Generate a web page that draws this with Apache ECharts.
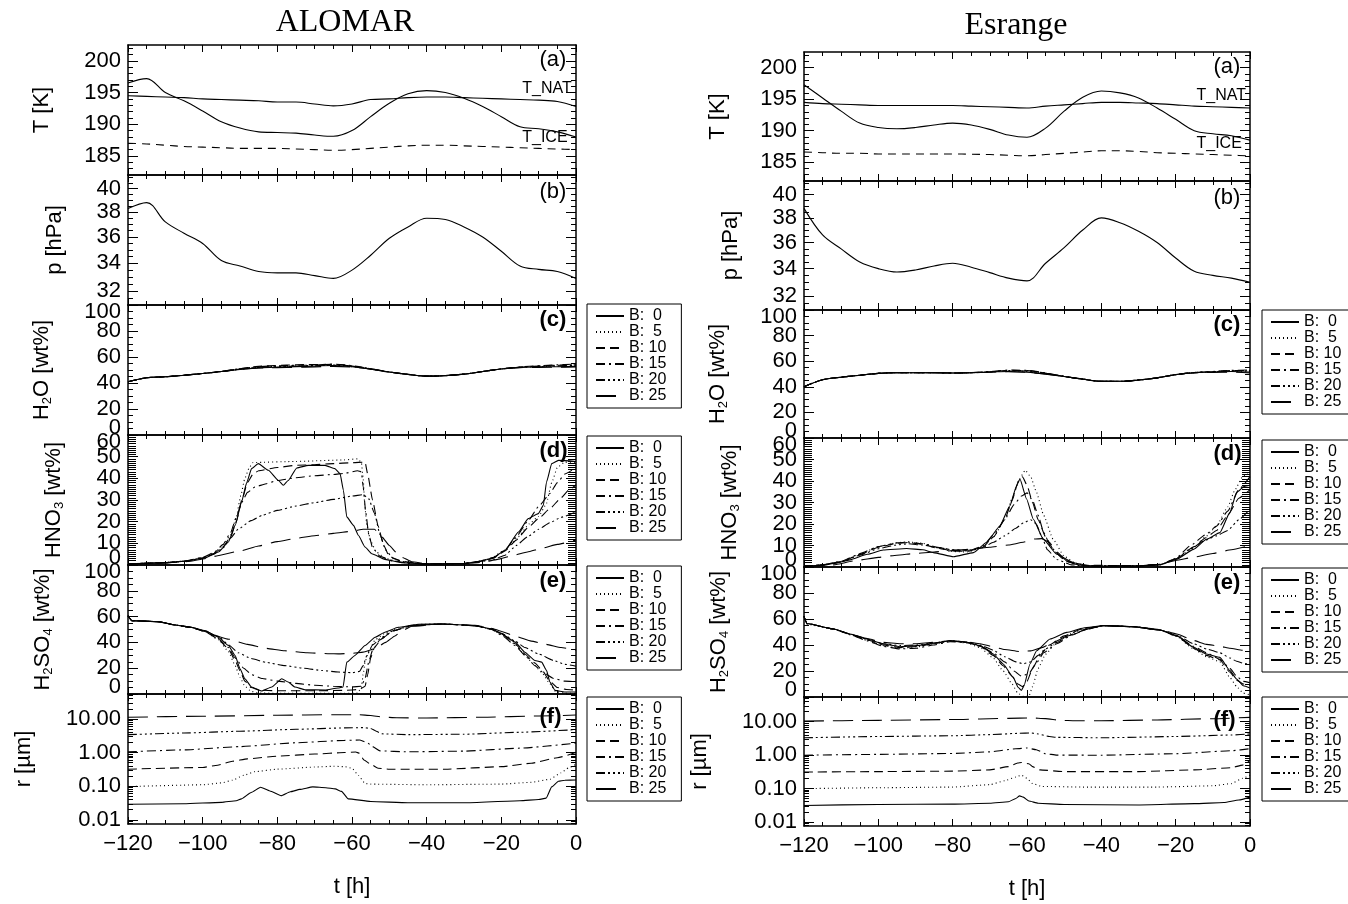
<!DOCTYPE html>
<html><head><meta charset="utf-8">
<script src="https://cdn.jsdelivr.net/npm/echarts@6/dist/echarts.min.js"></script>
<style>html,body{margin:0;padding:0;background:#fff}#c{width:1348px;height:904px}</style>
</head><body><div id="c"></div>
<script>
const FONT = '"Liberation Sans", Arial, Helvetica, sans-serif';
const SERIF = '"Liberation Serif", "Times New Roman", serif';

// ---------- shared ----------
const hours = [-120,-115,-110,-105,-100,-95,-90,-85,-80,-75,-70,-65,-60,-55,-50,-45,-40,-35,-30,-25,-20,-15,-10,-5,0];
const bNames = ['B:  0','B:  5','B: 10','B: 15','B: 20','B: 25'];
const timeTicks = [-120,-100,-80,-60,-40,-20,0];
const tTicks = [185,190,195,200];
const pTicks = [32,34,36,38,40];
const h2oTicks = [0,20,40,60,80,100];
const hno3Ticks = [0,10,20,30,40,50,60];
const h2so4Ticks = [0,20,40,60,80,100];
const rTicks = [0.01,0.1,1,10];
const rMinorTicks = [0.008,0.009,0.02,0.03,0.04,0.05,0.06,0.07,0.08,0.09,0.2,0.3,0.4,0.5,0.6,0.7,0.8,0.9,2,3,4,5,6,7,8,9,20,30,40,50];
const tempLabels = [['T_NAT',-14.4,195.6],['T_ICE',-14.4,187.95]];

// ---------- ALOMAR ----------
const alomarT    = [196.5,197.2,195.0,193.7,192.1,190.4,189.4,188.8,188.7,188.6,188.3,188.1,189.0,191.2,193.3,194.8,195.3,195.0,194.1,192.8,191.2,189.6,189.3,188.8,188.0];
const alomarTNAT = [194.5,194.4,194.3,194.2,194.0,193.9,193.8,193.7,193.5,193.5,193.2,192.9,193.2,193.9,194.0,194.2,194.3,194.3,194.2,194.1,194.0,193.9,193.8,193.6,192.8];
const alomarTICE = [187.0,186.9,186.7,186.5,186.4,186.3,186.2,186.2,186.2,186.1,186.0,185.9,186.0,186.2,186.4,186.6,186.7,186.7,186.6,186.5,186.4,186.3,186.2,186.1,186.0];
const alomarP    = [38.3,38.8,37.2,36.3,35.5,34.2,33.8,33.4,33.3,33.3,33.1,32.9,33.5,34.6,35.9,36.8,37.5,37.4,36.8,36.0,34.9,33.8,33.55,33.4,32.9];

const alomarH2O_B0  = [41,44,44.8,46,47.3,48.8,50.5,51.6,52.2,52.6,53,53.5,52.5,50.7,48.4,46.6,45.3,45.7,46.8,48.8,50.8,52,52.4,52.5,52.8];
const alomarH2O_B5  = [41,44,44.8,46,47.3,48.8,50.5,52,52.8,53,53.3,53.6,52.6,50.7,48.4,46.6,45.3,45.7,46.8,48.8,50.8,52,52.6,53,53.3];
const alomarH2O_B10 = [41,44,44.8,46,47.3,48.9,51,52.8,53.5,54,54.2,54.3,53,50.8,48.4,46.6,45.3,45.7,46.8,48.8,50.8,52.2,53,53.8,54.5];
const alomarH2O_B15 = [41,44,44.8,46,47.3,48.9,51,52.5,53.2,53.6,53.8,54.5,53.3,51,48.5,46.6,45.3,45.7,46.8,48.8,50.9,52.3,53.3,54,54.5];
const alomarH2O_B20 = [41,44,44.8,46,47.3,48.8,50.7,52,52.6,53,53.4,53.8,53,51,48.5,46.6,45.3,45.7,46.8,48.8,50.9,52.2,52.8,53.3,53.6];
const alomarH2O_B25 = [41,44,44.8,46,47.3,48.8,50.5,51.5,51.8,52,52.4,52.8,52.2,50.6,48.4,46.6,45.3,45.7,46.8,48.8,50.8,51.8,52,52.2,52.3];

const alomarHNO3_B0 = [[-120,0.5],[-110,1.0],[-104.7,1.8],[-99.4,3.2],[-95.8,6],[-93.1,10.6],[-91.3,18.3],[-89.6,29],[-88.2,38],[-86.9,44.5],[-85.1,46.8],[-82.4,43.7],[-79.7,39],[-78.4,36.8],[-77.1,39],[-74.8,44.8],[-71.7,46],[-67.2,46],[-64.6,44.5],[-63.2,42.2],[-62.3,34.5],[-61.4,22.2],[-59.6,18.3],[-58.3,13.7],[-56.5,8.3],[-54.7,5.2],[-51.2,2.6],[-46.7,1.1],[-40.4,0.5],[-30,0.7],[-27.1,1.4],[-22.6,2.9],[-19.0,6.8],[-15.4,15.2],[-12.8,21.4],[-10.1,23.7],[-8.75,27.5],[-7.9,38.3],[-6.5,46.8],[-4.7,48.3],[0,47.8]];
const alomarHNO3_B5 = [[-120,0.5],[-110,1.1],[-105,1.7],[-100,3.4],[-97,5.5],[-94.5,9],[-92.5,14],[-91,22],[-89.8,32],[-88.7,40],[-87.5,45],[-86.5,47.3],[-75,47.8],[-62,48.5],[-58.5,49],[-57.5,47.5],[-57,40],[-56.6,28],[-56,18],[-55,11],[-53.5,6],[-51,3],[-47,1.3],[-40,0.5],[-30,0.7],[-27,1.4],[-23,2.9],[-19,7],[-15.5,13],[-12.5,19],[-10,22.5],[-8,28],[-6.5,38],[-5,45],[-3,47.5],[0,47.5]];
const alomarHNO3_B10 = [[-120,0.5],[-110,1.1],[-105,1.7],[-100,3.3],[-97,5.3],[-94.5,8.5],[-92.5,13],[-91,20],[-89.5,30],[-88,38],[-86.5,42],[-85,43.5],[-80,45],[-75,46],[-70,46.3],[-65,46.8],[-60,47.2],[-56.5,47.5],[-55.8,42],[-54.5,30],[-53,18],[-51.5,9],[-50,4],[-47,1.8],[-42,0.6],[-30,0.7],[-26,1.5],[-22,3.3],[-19,6.5],[-16,11.5],[-13,17],[-10,21.5],[-7,26],[-4,31],[-2,34.5],[0,37]];
const alomarHNO3_B15 = [[-120,0.5],[-110,1.1],[-105,1.8],[-100,3.5],[-97,5.8],[-94.5,9.5],[-92.5,15],[-91,22],[-89.5,29],[-88,33.5],[-86,36],[-83,37.5],[-80,39],[-75,40.3],[-70,41.2],[-65,41.8],[-62,42.3],[-58.5,43.5],[-57.5,43],[-57,36],[-56.3,24],[-55.5,14],[-54.5,8],[-52.5,4],[-49,1.8],[-44,0.7],[-40,0.5],[-30,0.7],[-26,1.6],[-22,3.5],[-19,7],[-16,13],[-13,20],[-10,27],[-7,33],[-5,38],[-3,42],[0,45]];
const alomarHNO3_B20 = [[-120,0.5],[-110,1.1],[-105,1.7],[-100,3.2],[-97,5],[-94.5,8],[-92.5,12.5],[-90.5,16.5],[-87,20.5],[-84,23],[-80,25.2],[-75,27.2],[-70,28.8],[-65,30.3],[-60,31.8],[-57,32.5],[-55.5,30.5],[-54,24],[-52.5,14],[-51,7],[-49,3],[-45,1],[-40,0.5],[-30,0.7],[-26,1.4],[-22,2.6],[-19,4.5],[-16,9],[-13,13],[-10,16.5],[-7,19.5],[-4,22],[0,24.5]];
const alomarHNO3_B25 = [[-120,0.4],[-110,0.9],[-104,1.6],[-99,3],[-96,4.3],[-90,6.5],[-85,8.8],[-80,10.8],[-75,12.3],[-70,13.5],[-65,14.6],[-60,15.6],[-57,16.5],[-54,16.5],[-52,13],[-50,9],[-48,5.5],[-46.5,3.5],[-44,1.5],[-40,0.6],[-30,0.6],[-25,1.2],[-21,2.6],[-17,4.3],[-13,6],[-9,7.8],[-5,9.5],[0,11.5]];

const alomarH2SO4_B0 = [[-120,60.7],[-119,56.9],[-111.9,56.1],[-107.4,53.5],[-103,51.7],[-99.4,49.2],[-95.8,44],[-93.1,37.6],[-91.3,29.9],[-90,19.6],[-88.7,11.8],[-86.9,5.4],[-84.2,2.3],[-81.5,5.4],[-78.8,11.8],[-77.1,9.3],[-75.3,5.4],[-72.6,3.3],[-67.2,3.1],[-63.7,4.6],[-62.4,5.4],[-61.4,24.7],[-59.2,29.9],[-56.5,37.6],[-53.8,44],[-51.2,47.9],[-47.6,51.7],[-42.2,54.1],[-36,54.3],[-27.1,53],[-22.6,50.5],[-19.9,46.6],[-16.3,40.2],[-13.7,32.4],[-11,26],[-9.2,24.7],[-7.9,18.3],[-7,9.3],[-5.6,2.8],[-3,1.5],[0,1.5]];
const alomarH2SO4_B5 = [[-120,60.7],[-119,56.9],[-111.9,56.1],[-107.4,53.5],[-103,51.5],[-99.4,48.5],[-95.8,42],[-93.1,33],[-91.3,22],[-90,13],[-88.7,6],[-87,2],[-85,0.8],[-80,0.5],[-70,0.5],[-62,0.5],[-58.5,0.8],[-57.5,5],[-57,15],[-56.5,25],[-55.5,33],[-53.8,42],[-51.2,47],[-47.6,51.2],[-42.2,54],[-36,54.3],[-27.1,53],[-22.6,50.2],[-19.9,46],[-16.3,38.5],[-13.7,30],[-11,22],[-9,16],[-7,8],[-5.5,2],[-3,0.5],[0,0.5]];
const alomarH2SO4_B10 = [[-120,60.7],[-119,56.9],[-111.9,56.1],[-107.4,53.5],[-103,51.5],[-99.4,48.5],[-95.8,42.5],[-93.1,35],[-91.3,26],[-90,18],[-88.7,10],[-87,5],[-85,3],[-80,2.5],[-70,2.5],[-62,2.8],[-58,3.5],[-56.5,6],[-55.8,15],[-55,28],[-54,36],[-52,43],[-49,49],[-44,53],[-36,54.3],[-27.1,53],[-22.6,50.5],[-19.9,46.5],[-16.3,39],[-13.7,31],[-11,24],[-9,18],[-7,10],[-5,5],[-2.5,3.5],[0,3]];
const alomarH2SO4_B15 = [[-120,60.7],[-119,56.9],[-111.9,56.1],[-107.4,53.5],[-103,51.5],[-99.4,48.5],[-95.8,43],[-93.1,36],[-91.3,28],[-89,20],[-86.9,15],[-84,12],[-80,10],[-75,8.2],[-70,6.8],[-65,6],[-60,5.5],[-57.5,6],[-56.5,12],[-55.5,25],[-54.5,34],[-52.5,42],[-49,49],[-44,53],[-36,54.3],[-27.1,53],[-22.6,50],[-19.9,45.5],[-16.3,37.5],[-13.7,30],[-11,22],[-9,17],[-6,12],[-3,10],[0,9.5]];
const alomarH2SO4_B20 = [[-120,60.7],[-119,56.9],[-111.9,56.1],[-107.4,53.5],[-103,51.5],[-99.4,48.8],[-95.8,44.5],[-93,38],[-90.5,32],[-87,27.5],[-83,24.5],[-78,22],[-73,20],[-68,18.2],[-63.7,17],[-60,16.5],[-58,17.5],[-57,22],[-56,30],[-54.5,38],[-52,44],[-49,49],[-44,53],[-36,54.3],[-27.1,53],[-22.6,50.5],[-19.9,47],[-16.3,41],[-13.7,36],[-10,31],[-6,26],[-3,23],[0,21.5]];
const alomarH2SO4_B25 = [[-120,60.7],[-119,56.9],[-111.9,56.1],[-107.4,53.5],[-103,51.7],[-99.4,48.5],[-97.6,46],[-93,42.5],[-88,38.5],[-83.3,35.5],[-78,33.5],[-72,32],[-66,31.2],[-63.7,31.1],[-60,31.5],[-57,32.5],[-54,35],[-51,40],[-48.5,45],[-46.5,49.2],[-44,52.5],[-36,54.3],[-27.1,53.2],[-22.6,51],[-19.9,48.5],[-16,44.5],[-12,41],[-8,38.5],[-4,36],[0,34]];

const alomarR_B0 = [[-120,0.029],[-105,0.030],[-95,0.033],[-91,0.037],[-89.6,0.042],[-87,0.065],[-84.5,0.093],[-82,0.072],[-79,0.052],[-76.5,0.068],[-74,0.08],[-70.5,0.095],[-67,0.09],[-64.5,0.083],[-62.8,0.07],[-61,0.042],[-55,0.035],[-45,0.032],[-30,0.032],[-15,0.037],[-10,0.04],[-8,0.044],[-6.5,0.095],[-4.7,0.14],[-3,0.15],[0,0.152]];
const alomarR_B5 = [[-120,0.097],[-100,0.11],[-95,0.125],[-92,0.15],[-89,0.21],[-86,0.27],[-80,0.32],[-70,0.37],[-65,0.39],[-62,0.38],[-60,0.34],[-58.3,0.21],[-56.5,0.12],[-55,0.115],[-40,0.11],[-20,0.115],[-12,0.13],[-7,0.16],[-4,0.25],[-2,0.35],[0,0.45]];
const alomarR_B10 = [[-120,0.32],[-100,0.36],[-96,0.42],[-92,0.55],[-88,0.65],[-80,0.78],[-70,0.9],[-62,1.0],[-59,1.04],[-58,0.95],[-56.8,0.6],[-55,0.45],[-53,0.34],[-50,0.32],[-35,0.32],[-20,0.38],[-12,0.48],[-5,0.7],[0,1.0]];
const alomarR_B15 = [[-120,1.05],[-105,1.2],[-90,1.5],[-75,1.95],[-62,2.3],[-58,2.35],[-56,2.0],[-54.5,1.5],[-52.5,1.12],[-45,1.05],[-30,1.1],[-15,1.35],[0,1.9]];
const alomarR_B20 = [[-120,3.4],[-105,3.8],[-90,4.3],[-75,4.9],[-62,5.4],[-57,5.5],[-55,5.2],[-53.5,4.3],[-52,3.6],[-45,3.4],[-30,3.5],[-15,4.0],[0,4.8]];
const alomarR_B25 = [[-120,11.2],[-100,12],[-80,12.8],[-65,13.3],[-58,13.3],[-55,12.6],[-52,11.4],[-48,10.8],[-40,10.6],[-25,11.2],[-10,12.2],[0,13]];

// ---------- ESRANGE ----------
const esrangeT    = [197.3,195.2,193.1,191.2,190.5,190.3,190.5,190.9,191.2,190.9,190.2,189.3,188.95,190.4,193.1,195.3,196.3,196.0,195.2,193.6,191.8,190.0,189.5,189.2,188.5];
const esrangeTNAT = [194.5,194.3,194.2,194.1,194.0,194.0,194.0,194.0,194.0,193.9,193.8,193.7,193.6,193.9,194.1,194.3,194.5,194.5,194.4,194.3,194.1,193.9,193.8,193.7,193.6];
const esrangeTICE = [186.6,186.5,186.4,186.4,186.3,186.3,186.3,186.3,186.3,186.25,186.2,186.1,186.0,186.2,186.4,186.6,186.8,186.8,186.7,186.5,186.4,186.3,186.2,186.1,186.0];
const esrangeP    = [38.8,36.6,35.5,34.5,34.0,33.75,33.9,34.2,34.4,34.1,33.7,33.3,33.1,34.4,35.6,37.0,38.0,37.6,36.9,36.0,34.8,33.8,33.5,33.3,33.0];

const esrangeH2O_B0  = [40,45.5,47.5,49,50.5,51,51,51,50.8,51,51.5,52,51.5,50,48,46,44.3,44.3,45.3,47,49.5,51,51.5,52,51.5];
const esrangeH2O_B5  = [40,45.5,47.5,49,50.5,51,51,51,50.8,51,51.6,52.4,52,50.2,48,46,44.3,44.3,45.3,47,49.5,51,51.6,52.3,52];
const esrangeH2O_B10 = [40,45.5,47.5,49,50.5,51,51,51,50.8,51.1,51.8,52.8,52.6,50.6,48.1,46,44.3,44.3,45.3,47,49.5,51.1,51.8,52.6,52.8];
const esrangeH2O_B15 = [40,45.5,47.5,49,50.5,51,51,51,50.8,51.1,51.9,53,52.8,50.8,48.2,46,44.3,44.3,45.3,47,49.5,51.2,52,52.8,53.2];
const esrangeH2O_B20 = [40,45.5,47.5,49,50.5,51,51,51,50.8,51,51.7,52.6,52.3,50.5,48.1,46,44.3,44.3,45.3,47,49.5,51.1,51.8,52.5,52.5];
const esrangeH2O_B25 = [40,45.5,47.5,49,50.5,51,51,51,50.8,51,51.4,51.8,51.3,49.9,48,46,44.3,44.3,45.3,47,49.5,50.9,51.3,51.5,50.8];

const esrangeHNO3_B0 = [[-120,0.3],[-115,0.8],[-112,1.6],[-107.6,3.3],[-103,5.9],[-98.7,7.9],[-92.4,8.6],[-88,8],[-85.2,6.7],[-79.8,4.8],[-74.4,6.7],[-70.9,11.4],[-67.3,19.1],[-64.6,28.5],[-62.8,37.8],[-61.9,40.9],[-60.1,31.6],[-58.3,22.2],[-55.6,12.9],[-52,5.9],[-47.5,2],[-43,0.5],[-30,0.5],[-24.2,1],[-19.7,3.6],[-15.2,8.2],[-11.7,12.9],[-8.1,16],[-5.4,25.4],[-3.6,34.7],[-1.5,37.5],[0,38]];
const esrangeHNO3_B5 = [[-120,0.3],[-115,1],[-110,2.5],[-105,6],[-100,9.5],[-95,11.3],[-92,11.7],[-88,11],[-84,9],[-80,7.2],[-76,7],[-72,9],[-69,14],[-66,22],[-64,32],[-62,41],[-60.5,45],[-59,42],[-57.5,35],[-55.5,24],[-53,13],[-50,5],[-47,1.8],[-44,0.6],[-30,0.6],[-24,1.1],[-20,3.5],[-15,9],[-12,14],[-9,19],[-6,28],[-4,36],[-2,42],[0,45]];
const esrangeHNO3_B10 = [[-120,0.3],[-115,1],[-110,2.4],[-105,5.8],[-100,9.2],[-95,11],[-92,11.4],[-88,10.5],[-84,8.7],[-80,7.5],[-76,7.2],[-72,9],[-69,14],[-66,22],[-64,31],[-62.3,40],[-61.2,42],[-60,38],[-58.5,30],[-57,22],[-55,14],[-52.5,7],[-49,2.5],[-45,0.8],[-30,0.6],[-24,1.1],[-20,3.8],[-15,9.5],[-12,13.5],[-9,17],[-6,24],[-3,32],[0,36]];
const esrangeHNO3_B15 = [[-120,0.3],[-115,1],[-110,2.6],[-105,6.2],[-100,9.5],[-95,11.2],[-92,11.6],[-88,10.8],[-84,9.2],[-80,8],[-76,7.5],[-72,9.5],[-69,15],[-66,22],[-63.5,29],[-61.5,33],[-60,34.5],[-58.5,31],[-57,24],[-55.5,16],[-53.5,9],[-50.5,4],[-47,1.3],[-44,0.5],[-30,0.6],[-24,1.2],[-20,4],[-16,10],[-12,15],[-9,19],[-6,26],[-3,36],[0,42]];
const esrangeHNO3_B20 = [[-120,0.3],[-115,1],[-110,2.5],[-105,5.5],[-100,8.5],[-95,10.3],[-92,10.8],[-88,10.2],[-84,9],[-80,8],[-76,7.8],[-72,9],[-69,11.5],[-66,14.5],[-63,18],[-61,20.5],[-59,22],[-57.5,20],[-56,14],[-54.5,8],[-52,3.5],[-48,1],[-44,0.4],[-30,0.5],[-24,1.2],[-20,3.8],[-16,8.5],[-12,12.5],[-9,14.5],[-6,17],[-3,22],[0,27]];
const esrangeHNO3_B25 = [[-120,0.2],[-112,1],[-106,3],[-100,4.5],[-95,5.5],[-90,6.3],[-85,7],[-80,7.6],[-75,8.3],[-70,9.2],[-65,10.2],[-61,11.5],[-58,13],[-56,13.2],[-54,11.5],[-52,7],[-49,2.5],[-46,0.6],[-30,0.5],[-24,1.3],[-20,3],[-15,4.6],[-10,6.3],[-5,8],[0,10]];

const esrangeH2SO4_B0 = [[-120,62],[-119.2,56.5],[-112,52.3],[-107.6,48.5],[-103,44.6],[-98.7,40.8],[-94.2,38.7],[-89.7,39.5],[-85.2,41.3],[-80.7,43.3],[-76.2,42.1],[-72.6,39.5],[-69.1,33.1],[-66.4,25.4],[-63.7,15.1],[-62.4,7.5],[-61.5,5],[-60.8,8.7],[-59.2,25.4],[-57.4,35.6],[-53.8,44.6],[-49.3,49.7],[-44.8,53.1],[-39.5,54.9],[-31.4,54.1],[-24.2,51.5],[-19.7,47.2],[-15.2,38.2],[-11.7,33.1],[-8.1,30.5],[-5.4,20.3],[-3.6,13.8],[-1.8,8.7],[0,6.9]];
const esrangeH2SO4_B5 = [[-120,62],[-119.2,56],[-112,52],[-107.6,48],[-103,43.5],[-98.7,39.5],[-94.2,37.5],[-89.7,38.5],[-85.2,40.8],[-80.7,43],[-76.2,41.5],[-72.6,38],[-69.1,30],[-66.4,20],[-64,10],[-62.5,3],[-61,0.5],[-59.5,0.5],[-58.5,8],[-57,22],[-55,33],[-52,42],[-48,49],[-44,52.8],[-39.5,54.9],[-31.4,54.1],[-24.2,51.5],[-19.7,46.5],[-15.2,37],[-11.7,31],[-8.1,27],[-5.4,15],[-3.6,8],[-1.8,3],[0,1.5]];
const esrangeH2SO4_B10 = [[-120,62],[-119.2,56.5],[-112,52.3],[-107.6,48.3],[-103,44],[-98.7,40],[-94.2,38],[-89.7,38.8],[-85.2,41],[-80.7,43.2],[-76.2,42],[-72.6,39],[-69.1,32],[-66.4,24],[-64,16],[-62.5,10],[-61.2,8],[-60,12],[-58.5,22],[-56.5,32],[-54,40],[-50,47],[-45,52.5],[-39.5,54.9],[-31.4,54.1],[-24.2,51.5],[-19.7,46.8],[-15.2,37.5],[-11.7,32],[-8.1,28.5],[-5.4,19],[-3.6,13],[-1.8,10],[0,9]];
const esrangeH2SO4_B15 = [[-120,62],[-119.2,56.5],[-112,52.3],[-107.6,48],[-103,43.2],[-98.7,39],[-94.2,37],[-89.7,37.5],[-85.2,40],[-80.7,42.5],[-76.2,41.8],[-72.6,39.5],[-69.1,34],[-66,27],[-63.5,20],[-61.5,16],[-59.5,18],[-57.5,26],[-55.5,34],[-52,41],[-48,47.5],[-44,52],[-39.5,54.9],[-31.4,54.1],[-24.2,51.5],[-19.7,47],[-15.2,39],[-11.7,34],[-8.1,29],[-5.4,22],[-3.6,16],[-1.8,12],[0,11]];
const esrangeH2SO4_B20 = [[-120,62],[-119.2,56.5],[-112,52.3],[-107.6,48.5],[-103,44.5],[-98.7,41],[-94.2,39.5],[-89.7,40],[-85.2,41.5],[-80.7,43.3],[-76.2,42.3],[-72.6,40],[-69.1,36],[-66,31],[-63,27],[-61,25.5],[-59,27],[-57,32],[-55,37],[-52,42],[-48,48],[-44,52],[-39.5,54.9],[-31.4,54.1],[-24.2,51.5],[-19.7,47.5],[-15.2,41],[-11.7,37],[-8.1,34],[-5.4,30],[-3.6,27.5],[-1.8,26],[0,25]];
const esrangeH2SO4_B25 = [[-120,62],[-119.2,56.5],[-112,52.3],[-107.6,48.5],[-103,45],[-98.7,42],[-94.2,41],[-89.7,41],[-85.2,42],[-80.7,43.3],[-76.2,42.5],[-72.6,41],[-69,38.5],[-66,36.5],[-62,35],[-59,35.5],[-56,38],[-53,42],[-49,47],[-45,51.5],[-39.5,54.9],[-31.4,54.1],[-24.2,51.8],[-19.7,48.5],[-15.2,43.5],[-11.7,40.5],[-8.1,39],[-5.4,37.5],[-2,36],[0,35]];

const esrangeR_B0 = [[-120,0.031],[-100,0.033],[-80,0.034],[-70,0.036],[-65,0.04],[-63,0.05],[-62,0.06],[-61,0.055],[-59.5,0.042],[-57,0.036],[-50,0.033],[-30,0.032],[-15,0.035],[-7,0.038],[-3,0.045],[0,0.055]];
const esrangeR_B5 = [[-120,0.099],[-100,0.105],[-80,0.11],[-70,0.13],[-66,0.17],[-63,0.22],[-61.5,0.25],[-60,0.2],[-58.5,0.14],[-56,0.115],[-45,0.11],[-25,0.11],[-10,0.12],[-5,0.14],[-2,0.2],[0,0.25]];
const esrangeR_B10 = [[-120,0.31],[-100,0.32],[-80,0.33],[-70,0.36],[-65,0.45],[-62.5,0.58],[-61.5,0.6],[-59.5,0.55],[-58.5,0.45],[-56.5,0.36],[-50,0.32],[-30,0.32],[-15,0.36],[-5,0.42],[-2,0.5],[0,0.7]];
const esrangeR_B15 = [[-120,0.99],[-100,1.05],[-80,1.12],[-70,1.25],[-63,1.55],[-60,1.63],[-57.5,1.45],[-55,1.1],[-52,1.0],[-40,0.99],[-20,1.1],[-5,1.35],[0,1.55]];
const esrangeR_B20 = [[-120,3.3],[-100,3.6],[-80,3.8],[-70,4.1],[-62,4.5],[-59,4.6],[-57,4.3],[-54,3.6],[-52,3.4],[-40,3.3],[-20,3.6],[-5,4.0],[0,4.3]];
const esrangeR_B25 = [[-120,10.4],[-100,11],[-80,11.6],[-65,12.6],[-59,13],[-55,12.4],[-51,11],[-47,10.7],[-40,10.7],[-25,11.3],[-10,12.3],[0,13.5]];

// ---------- build ----------
const bDash = ['solid',[1,3],[9,5],[9,4,2,4],[9,3,2,3,2,3,2,3],[20,9]];
const zip = (ts, vs) => ts.map((t, i) => [t, vs[i]]);
const tMinorTicks = []; for (let v = 183; v <= 202; v++) if (v % 5) tMinorTicks.push(v);
const pMinorTicks = []; for (let v = 31.5; v <= 41; v += 0.5) if (v % 2) pMinorTicks.push(v);

const panelSpecs = [
  {type:'value', min:182, max:202.5, majors:tTicks, minors:tMinorTicks, fmt:v=>String(Math.round(v)), name:'T [K]', gap:75, lab:'(a)', bold:false, labDy:15},
  {type:'log', min:31.05, max:41.2, majors:pTicks, minors:pMinorTicks, fmt:v=>String(Math.round(v)), name:'p [hPa]', gap:62, lab:'(b)', bold:false, labDy:17},
  {type:'value', min:0, max:100, majors:h2oTicks, edge:true, alt:[], minorSplit:4, interval:20, fmt:v=>String(v), name:'{a|H}{s|2}{a|O [wt%]}', gap:74, lab:'(c)', bold:true, labDy:15},
  {type:'value', min:0, max:60, majors:hno3Ticks, edge:true, alt:[20,40], minorSplit:10, minorLen:8, interval:10, fmt:v=>String(v), name:'{a|HNO}{s|3}{a| [wt%]}', gap:62, lab:'(d)', bold:true, labDy:16},
  {type:'value', min:0, max:100, majors:h2so4Ticks, edge:true, alt:[], minorSplit:4, interval:20, fmt:v=>String(v), name:'{a|H}{s|2}{a|SO}{s|4}{a| [wt%]}', gap:73, lab:'(e)', bold:true, labDy:16},
  {type:'log', min:0.0075, max:55, majors:rTicks, minors:rMinorTicks, fmt:v=>v.toFixed(2), name:'r [\u00b5m]', gap:93, lab:'(f)', bold:true, labDy:23}
];

const sides = [
  {title:'ALOMAR', titleX:345, titleY:22.5, x:128, w:448, tops:[45,175,305,435,565,694], bottom:824,
   legendX:587, legendTops:[304,436,566,697],
   T:alomarT, TNAT:alomarTNAT, TICE:alomarTICE, P:alomarP,
   H2O:[alomarH2O_B0,alomarH2O_B5,alomarH2O_B10,alomarH2O_B15,alomarH2O_B20,alomarH2O_B25],
   HNO3:[alomarHNO3_B0,alomarHNO3_B5,alomarHNO3_B10,alomarHNO3_B15,alomarHNO3_B20,alomarHNO3_B25],
   H2SO4:[alomarH2SO4_B0,alomarH2SO4_B5,alomarH2SO4_B10,alomarH2SO4_B15,alomarH2SO4_B20,alomarH2SO4_B25],
   R:[alomarR_B0,alomarR_B5,alomarR_B10,alomarR_B15,alomarR_B20,alomarR_B25]},
  {title:'Esrange', titleX:1016, titleY:26, x:804, w:446, tops:[52,181,310,438,567,697], bottom:826,
   legendX:1262, legendTops:[310,440,568,697],
   T:esrangeT, TNAT:esrangeTNAT, TICE:esrangeTICE, P:esrangeP,
   H2O:[esrangeH2O_B0,esrangeH2O_B5,esrangeH2O_B10,esrangeH2O_B15,esrangeH2O_B20,esrangeH2O_B25],
   HNO3:[esrangeHNO3_B0,esrangeHNO3_B5,esrangeHNO3_B10,esrangeHNO3_B15,esrangeHNO3_B20,esrangeHNO3_B25],
   H2SO4:[esrangeH2SO4_B0,esrangeH2SO4_B5,esrangeH2SO4_B10,esrangeH2SO4_B15,esrangeH2SO4_B20,esrangeH2SO4_B25],
   R:[esrangeR_B0,esrangeR_B5,esrangeR_B10,esrangeR_B15,esrangeR_B20,esrangeR_B25]}
];

const black = '#000';
const lineAx = {show:true, onZero:false, lineStyle:{color:black, width:1.5}};
const noLine = {show:false, onZero:false};
const txt = (size, extra) => Object.assign({fontSize:size, fontFamily:FONT, color:black}, extra||{});
const tickStyle = {color:black, width:1};

function makeX(gi, pos, withLabels) {
  return {
    type:'value', gridIndex:gi, position:pos, min:-120, max:0, interval:20,
    axisLine:lineAx, splitLine:{show:false}, minorSplitLine:{show:false},
    axisTick:{show:true, inside:true, length:7, lineStyle:tickStyle},
    minorTick:{show:true, splitNumber:4, length:4, lineStyle:tickStyle},
    axisLabel:{show:withLabels, margin:9, fontSize:22, fontFamily:FONT, color:black,
      showMinLabel:true, showMaxLabel:true, customValues: timeTicks,
      formatter:v => v < 0 ? '\u2212' + Math.abs(v) : String(v)},
    name: withLabels ? 't [h]' : '', nameLocation:'middle', nameGap:52, nameTextStyle:txt(22)
  };
}
function baseY(gi, pos, spec) {
  return {type:spec.type, gridIndex:gi, position:pos, min:spec.min, max:spec.max,
    axisLine:noLine, splitLine:{show:false}, minorSplitLine:{show:false},
    minorTick:{show:false}, axisTick:{show:false}, axisLabel:{show:false}};
}
// frame axis with major ticks (and interior tick labels plus the name on the left)
function makeYMain(gi, pos, spec, main) {
  const ax = baseY(gi, pos, spec);
  const skip = spec.edge ? [spec.min, spec.max].concat(spec.alt) : [];
  const labelVals = spec.majors.filter(v => skip.indexOf(v) < 0);
  ax.axisLine = lineAx;
  ax.axisTick = {show:true, inside:true, length:10, customValues:spec.majors, lineStyle:tickStyle};
  ax.axisLabel = {show:main, margin:7, customValues:labelVals, hideOverlap:false, showMinLabel:true, showMaxLabel:true,
    fontSize:22, fontFamily:FONT, color:black, formatter:spec.fmt};
  if (main) {
    ax.name = spec.name; ax.nameLocation = 'middle'; ax.nameGap = spec.gap;
    ax.nameTextStyle = txt(22, {rich:{a:txt(22,{lineHeight:24}), s:txt(13,{lineHeight:13, verticalAlign:'bottom'})}});
  }
  return ax;
}
// labels at the frame edges (nudged inside the panel like the original) and alternating labels of dense axes
function makeYEdge(gi, spec) {
  const ax = baseY(gi, 'left', spec);
  ax.axisLabel = {show:true, margin:7, customValues:[spec.min].concat(spec.alt, [spec.max]), hideOverlap:false,
    showMinLabel:true, showMaxLabel:true, fontSize:22, fontFamily:FONT, color:black,
    formatter: v => (v === spec.max ? '{t|' : v === spec.min ? '{b|' : '{n|') + v + '}',
    rich: {n:txt(22), t:txt(22,{padding:[14,0,0,0]}), b:txt(22,{padding:[0,0,14,0]})}};
  return ax;
}
function makeYMinor(gi, pos, spec) {
  const ax = baseY(gi, pos, spec);
  if (spec.edge) {
    ax.interval = spec.interval;
    ax.minorTick = {show:true, splitNumber:spec.minorSplit, length:spec.minorLen || 5, lineStyle:tickStyle};
    ax.axisTick = {show:false, inside:true};
  } else {
    ax.axisTick = {show:true, inside:true, length:5, customValues:spec.minors, lineStyle:tickStyle};
  }
  return ax;
}
function line(name, data, dash, xi, yi, smooth, mono) {
  const s = {type:'line', name, data, xAxisIndex:xi, yAxisIndex:yi, symbol:'none', showSymbol:false,
    smooth, silent:true, animation:false, z:3,
    itemStyle:{color:black}, lineStyle:{color:black, width:1.1, type:dash}, emphasis:{disabled:true}};
  if (mono) s.smoothMonotone = 'x';
  return s;
}

const grids = [], xAxes = [], yAxes = [], series = [], legends = [], graphics = [];
sides.forEach(side => {
  graphics.push({type:'text', x:side.titleX, y:side.titleY,
    style:{text:side.title, font:'32px ' + SERIF, fill:black, align:'center', verticalAlign:'middle', textAlign:'center', textVerticalAlign:'middle'}});
  side.tops.forEach((top, k) => {
    const h = (k < 5 ? side.tops[k + 1] : side.bottom) - top;
    const gi = grids.length;
    grids.push({left:side.x, top:top, width:side.w, height:h, show:false});
    const spec = panelSpecs[k];
    const xi = xAxes.length;
    xAxes.push(makeX(gi, 'bottom', k === 5));
    xAxes.push(makeX(gi, 'top', false));
    const yi = yAxes.length;
    yAxes.push(makeYMain(gi, 'left', spec, true));
    yAxes.push(makeYMain(gi, 'right', spec, false));
    yAxes.push(makeYMinor(gi, 'left', spec));
    yAxes.push(makeYMinor(gi, 'right', spec));
    if (spec.edge) yAxes.push(makeYEdge(gi, spec));

    if (k === 0) {
      series.push(line('T', zip(hours, side.T), 'solid', xi, yi, 0.35));
      series.push(line('T_NAT', zip(hours, side.TNAT), 'solid', xi, yi, 0.35));
      series.push(line('T_ICE', zip(hours, side.TICE), [8,6], xi, yi, 0.35));
      series.push({type:'scatter', name:'labels', xAxisIndex:xi, yAxisIndex:yi, symbolSize:0, silent:true, animation:false,
        data: tempLabels.map(r => ({value:[r[1], r[2]], name:r[0]})),
        label:{show:true, position:'right', distance:0, formatter:p => p.name, fontSize:16, fontFamily:FONT, color:black, opacity:1}});
    } else if (k === 1) {
      series.push(line('p', zip(hours, side.P), 'solid', xi, yi, 0.35));
    } else if (k === 2) {
      side.H2O.forEach((arr, j) => series.push(line(bNames[j], zip(hours, arr), bDash[j], xi, yi, 0.35)));
    } else {
      const sets = k === 3 ? side.HNO3 : k === 4 ? side.H2SO4 : side.R;
      sets.forEach((arr, j) => series.push(line(bNames[j], arr, bDash[j], xi, yi, 0.15, true)));
    }

    graphics.push({type:'text', x:side.x + side.w - 36.5, y:top + spec.labDy,
      style:{text:spec.lab, font:(spec.bold ? 'bold ' : '') + '22px ' + FONT, fill:black,
        align:'left', verticalAlign:'middle', textAlign:'left', textVerticalAlign:'middle'}});

    if (k >= 2) {
      legends.push({data:bNames, orient:'vertical', left:side.legendX, top:side.legendTops[k - 2],
        itemWidth:28, itemHeight:16, itemGap:0, padding:[4,15,4,8], selectedMode:false,
        borderColor:black, borderWidth:1, backgroundColor:'#fff',
        itemStyle:{opacity:0, borderWidth:0},
        textStyle:{fontSize:16, fontFamily:FONT, color:black, lineHeight:16}});
    }
  });
});

const chart = echarts.init(document.getElementById('c'), null, {renderer:'canvas'});
chart.setOption({
  animation:false, backgroundColor:'#fff',
  grid:grids, xAxis:xAxes, yAxis:yAxes, series:series, legend:legends, graphic:graphics
});
</script></body></html>
